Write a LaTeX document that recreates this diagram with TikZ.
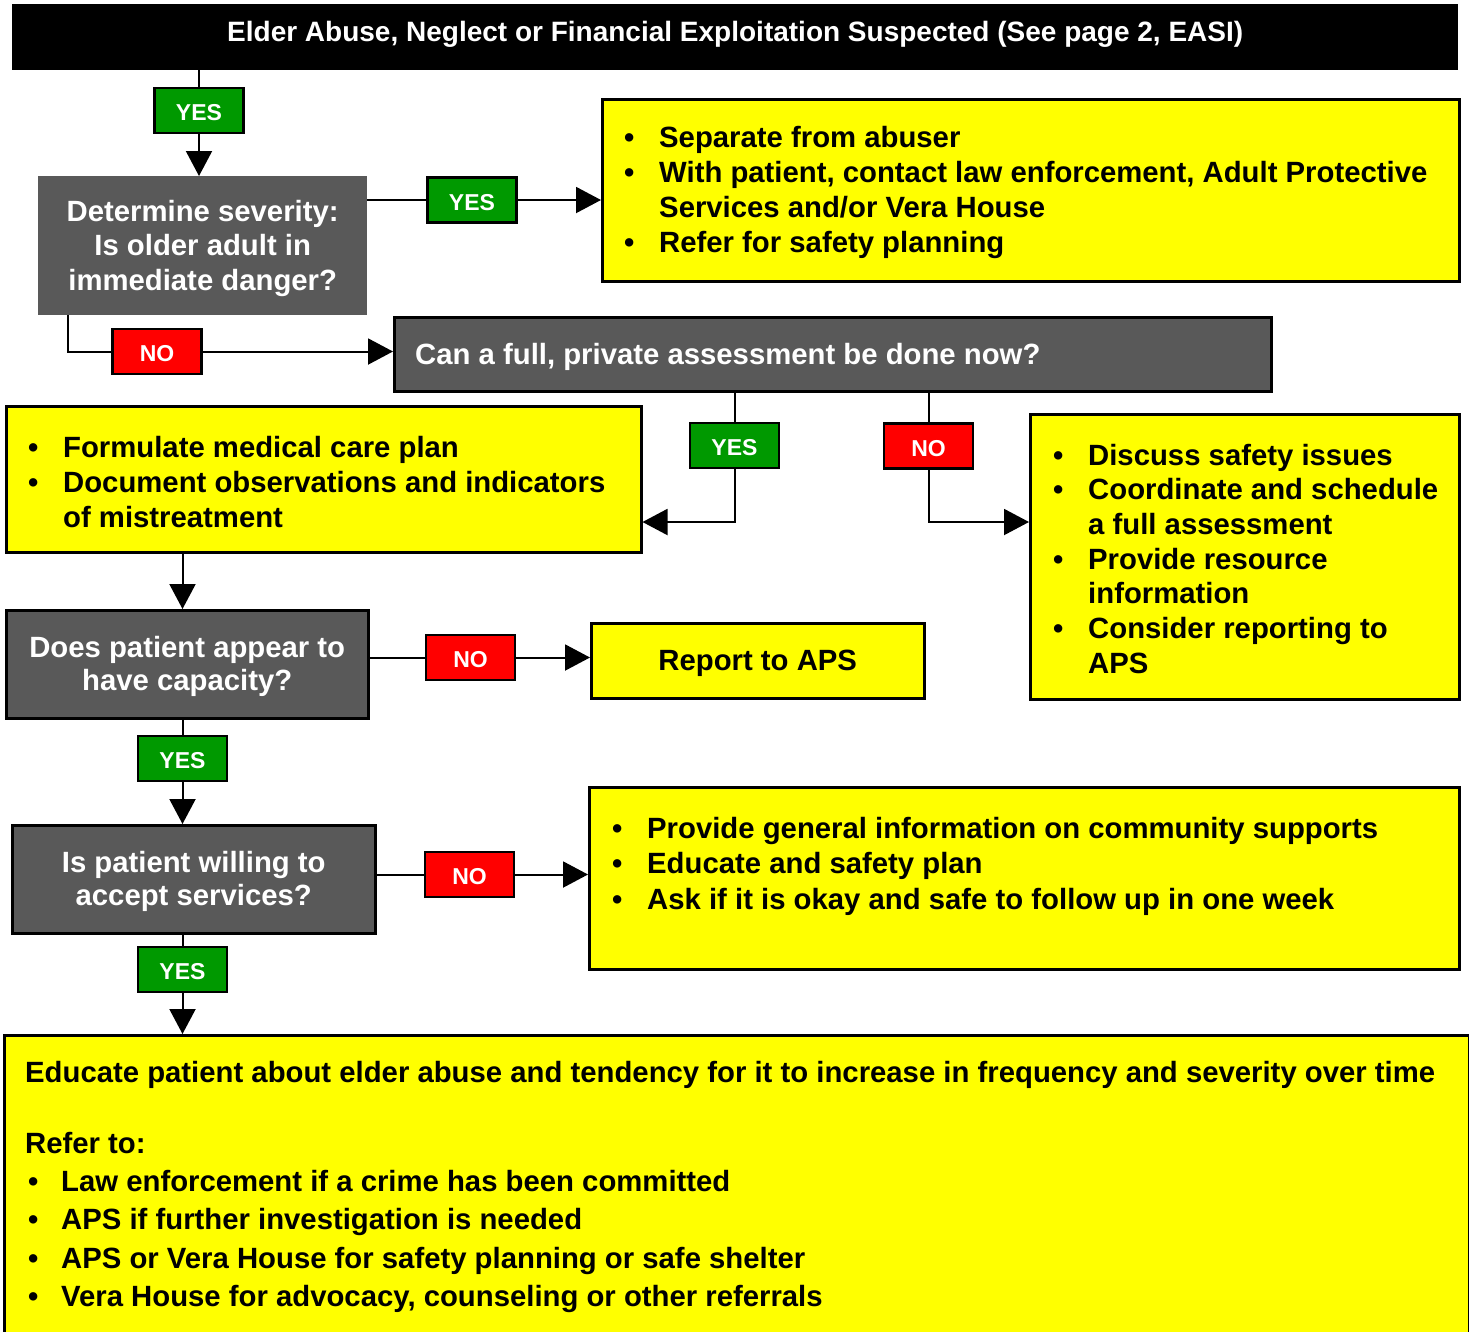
\documentclass[tikz,border=0pt]{standalone}
\usepackage{fontspec}
\setmainfont{Liberation Sans}
\usetikzlibrary{arrows.meta,calc}
\definecolor{ggray}{HTML}{595959}
\definecolor{gyel}{HTML}{FFFF00}
\definecolor{ggreen}{HTML}{009900}
\definecolor{gred}{HTML}{FF0000}
\newcommand\bul{\makebox[35pt][l]{•}}
\newcommand\ind{\hspace*{35pt}}
\begin{document}
\begin{tikzpicture}[x=1pt,y=-1pt,
  lab/.style={draw=black, line width=2.5pt, text=white, font=\bfseries\fontsize{23}{27}\selectfont, minimum width=89pt, minimum height=45pt, inner sep=0pt, text height=20.5pt, text depth=0pt},
  yeslab/.style={lab, fill=ggreen},
  nolab/.style={lab, fill=gred},
  qbox/.style={fill=ggray, anchor=north west, inner sep=0pt},
  qframe/.style={qbox, draw=black, line width=2.5pt},
  qtext/.style={text=white, inner sep=0pt, align=center, font=\bfseries\fontsize{29.3}{34}\selectfont},
  abox/.style={fill=gyel, draw=black, line width=2.5pt, anchor=north west, inner sep=0pt},
  atext/.style={anchor=west, align=left, inner sep=0pt, font=\bfseries\fontsize{29.3}{35}\selectfont},
  conn/.style={line width=2pt},
  arr/.style={-{Triangle[length=25pt,width=26pt]}}
]
\useasboundingbox (0,0) rectangle (1469,1331);
\fill[white] (0,0) rectangle (1469,1331);

% title
\node[fill=black, minimum width=1446pt, minimum height=66pt, anchor=north west, inner sep=0pt] (top) at (12,4) {};
\node[text=white, inner sep=0pt, font=\bfseries\fontsize{28}{32}\selectfont] (toptext) at ([yshift=3pt]top.center) {Elder Abuse, Neglect or Financial Exploitation Suspected (See page 2, EASI)};

% question boxes
\node[qbox, minimum width=329pt, minimum height=139pt] (g1) at (38,176) {};
\node[qtext, font=\bfseries\fontsize{29.3}{34.5}\selectfont] (g1t) at ([yshift=-2.5pt]g1.center) {Determine severity:\\Is older adult in\\immediate danger?};
\node[qframe, minimum width=877pt, minimum height=74pt] (g2) at (393,316) {};
\node[qtext, anchor=west] (g2t) at ([xshift=22pt,yshift=-2.5pt]g2.west) {Can a full, private assessment be done now?};
\node[qframe, minimum width=362pt, minimum height=108pt] (g3) at (5,609) {};
\node[qtext, font=\bfseries\fontsize{29.3}{33}\selectfont] (g3t) at ([yshift=-2.5pt]g3.center) {Does patient appear to\\have capacity?};
\node[qframe, minimum width=363pt, minimum height=108pt] (g4) at (11,824) {};
\node[qtext, font=\bfseries\fontsize{29.3}{33}\selectfont] (g4t) at ([yshift=-2.5pt]g4.center) {Is patient willing to\\accept services?};

% action boxes
\node[abox, minimum width=857pt, minimum height=182pt] (y1) at (601,98) {};
\node[atext] (t1) at ([xshift=23pt,yshift=-2.5pt]y1.west) {\bul Separate from abuser\\
\bul With patient, contact law enforcement, Adult Protective\\
\ind Services and/or Vera House\\
\bul Refer for safety planning};

\node[abox, minimum width=635pt, minimum height=146pt] (y2) at (5,405) {};
\node[atext] (t2) at ([xshift=23pt,yshift=-2.5pt]y2.west) {\bul Formulate medical care plan\\
\bul Document observations and indicators\\
\ind of mistreatment};

\node[abox, minimum width=429pt, minimum height=285pt] (y3) at (1029,413) {};
\node[atext, font=\bfseries\fontsize{29.3}{34.7}\selectfont] (t3) at ([xshift=24pt,yshift=-2pt]y3.west) {\bul Discuss safety issues\\
\bul Coordinate and schedule\\
\ind a full assessment\\
\bul Provide resource\\
\ind information\\
\bul Consider reporting to\\
\ind APS};

\node[abox, minimum width=333pt, minimum height=75pt] (rep) at (590,622) {};
\node[qtext, text=black] (rept) at ([yshift=-2.5pt]rep.center) {Report to APS};

\node[abox, minimum width=870pt, minimum height=182pt] (y4) at (588,786) {};
\node[atext, font=\bfseries\fontsize{29.3}{35.5}\selectfont] (t4) at ([xshift=24pt,yshift=12pt]y4.west) {\bul Provide general information on community supports\\
\bul Educate and safety plan\\
\bul Ask if it is okay and safe to follow up in one week};

\node[abox, minimum width=1465pt, minimum height=311pt] (bot) at (3,1034) {};
\node[atext, anchor=north west] (t5) at ([xshift=22pt,yshift=-27pt]bot.north west) {Educate patient about elder abuse and tendency for it to increase in frequency and severity over time\\[36pt]
Refer to:\\[3pt]
\hspace*{3pt}\makebox[33pt][l]{•}Law enforcement if a crime has been committed\\[3.5pt]
\hspace*{3pt}\makebox[33pt][l]{•}APS if further investigation is needed\\[3.5pt]
\hspace*{3pt}\makebox[33pt][l]{•}APS or Vera House for safety planning or safe shelter\\[3.5pt]
\hspace*{3pt}\makebox[33pt][l]{•}Vera House for advocacy, counseling or other referrals};

% labels
\node[yeslab] (yes1) at (199,110.5) {YES};
\node[yeslab] (yes2) at (472,200) {YES};
\node[nolab] (no1) at (157,351.5) {NO};
\node[yeslab] (yes3) at (734.5,445.5) {YES};
\node[nolab] (no2) at (928.5,446) {NO};
\node[nolab] (no3) at (470.5,657.5) {NO};
\node[yeslab] (yes4) at (182.5,758.5) {YES};
\node[nolab] (no4) at (469.5,874.5) {NO};
\node[yeslab] (yes5) at (182.5,969.5) {YES};

\coordinate (j1) at (0,522);

% connectors
\draw[conn] (top.south -| yes1) -- (yes1.north);
\draw[conn,arr] (yes1.south) -- (yes1.south |- g1.north);
\draw[conn] (g1.east |- yes2) -- (yes2.west);
\draw[conn,arr] (yes2.east) -- (yes2.east -| y1.west);
\draw[conn] ([xshift=30pt]g1.south west) |- (no1.west);
\draw[conn,arr] (no1.east) -- (no1.east -| g2.west);
\draw[conn] (g2.south -| yes3) -- (yes3.north);
\draw[conn,arr] (yes3.south) |- (y2.east |- j1);
\draw[conn] (g2.south -| no2) -- (no2.north);
\draw[conn,arr] (no2.south) |- (y3.west |- j1);
\draw[conn,arr] (y2.south -| yes4) -- (g3.north -| yes4);
\draw[conn] (g3.east |- no3) -- (no3.west);
\draw[conn,arr] (no3.east) -- (no3.east -| rep.west);
\draw[conn] (g3.south -| yes4) -- (yes4.north);
\draw[conn,arr] (yes4.south) -- (yes4.south |- g4.north);
\draw[conn] (g4.east |- no4) -- (no4.west);
\draw[conn,arr] (no4.east) -- (no4.east -| y4.west);
\draw[conn] (g4.south -| yes5) -- (yes5.north);
\draw[conn,arr] (yes5.south) -- (yes5.south |- bot.north);
\end{tikzpicture}
\end{document}
